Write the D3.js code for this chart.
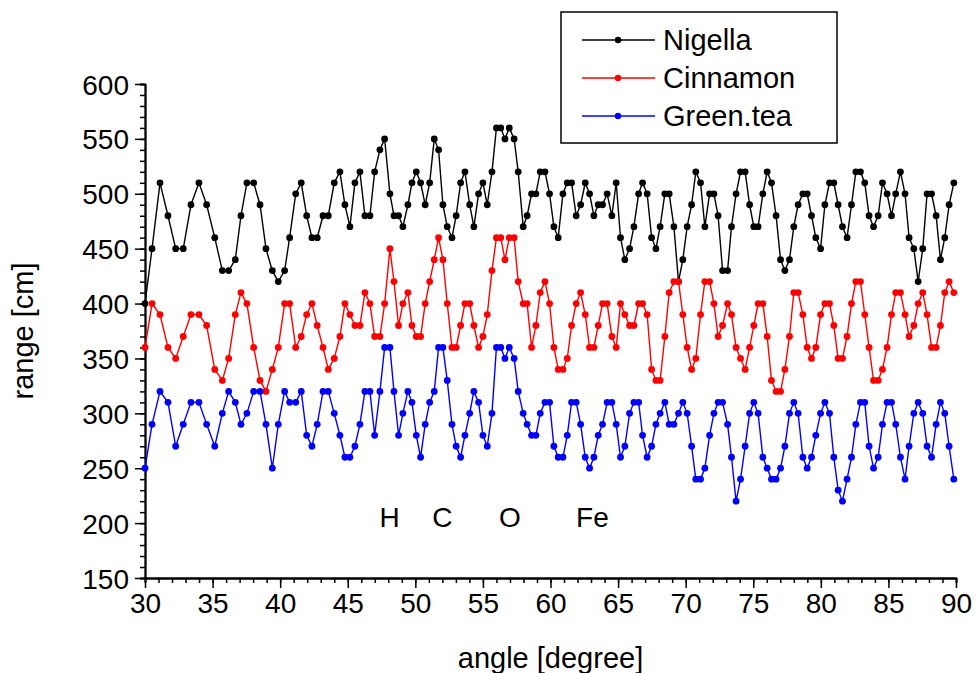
<!DOCTYPE html>
<html>
<head>
<meta charset="utf-8">
<script src="https://cdn.jsdelivr.net/npm/d3@7"></script>
<style>
  body { margin: 0; background: #fff; }
  svg text { font-family: "Liberation Sans", Arial, sans-serif; fill: #000; }
</style>
</head>
<body>
<svg id="chart"></svg>
<script>
// x positions (degrees)
var angles = [30.0,30.52,31.11,31.70,32.27,32.83,33.40,33.99,34.56,35.16,35.72,36.19,36.68,37.10,37.54,38.04,38.51,38.95,39.42,39.86,
  40.33,40.70,41.15,41.56,41.96,42.35,42.74,43.17,43.56,44.00,44.42,44.79,45.16,45.53,45.90,46.27,46.64,46.99,47.38,47.73,
  48.12,48.42,48.76,49.08,49.45,49.75,50.07,50.39,50.73,51.06,51.40,51.72,52.04,52.36,52.71,53.02,53.35,53.67,54.02,54.33,
  54.68,55.00,55.32,55.67,56.00,56.32,56.63,56.95,57.31,57.61,57.98,58.27,58.60,58.92,59.24,59.59,59.93,60.25,60.57,60.92,
  61.24,61.56,61.90,62.23,62.57,62.89,63.21,63.53,63.85,64.19,64.54,64.86,65.18,65.50,65.85,66.17,66.52,66.81,67.15,67.48,
  67.80,68.11,68.46,68.78,69.13,69.47,69.79,70.11,70.44,70.75,71.10,71.42,71.77,72.09,72.40,72.73,73.10,73.39,73.73,74.06,
  74.40,74.73,75.04,75.36,75.71,76.03,76.35,76.69,77.02,77.34,77.68,78.00,78.32,78.67,78.99,79.31,79.63,79.98,80.30,80.64,
  80.96,81.28,81.60,81.94,82.27,82.59,82.93,83.25,83.57,83.90,84.24,84.56,84.90,85.23,85.54,85.89,86.23,86.53,86.88,87.20,
  87.54,87.86,88.19,88.53,88.85,89.17,89.49,89.84];

var nigella = [400,450,510,480,450,450,490,510,490,460,430,430,440,480,510,510,490,450,430,420,
  430,460,500,510,480,460,460,480,480,510,520,490,470,510,520,480,480,520,540,550,
  500,480,480,470,490,510,520,510,490,510,550,540,490,470,460,480,510,520,490,470,
  500,510,490,520,560,560,550,560,550,520,470,480,500,500,520,520,500,470,460,500,
  510,510,480,490,510,500,480,490,490,500,480,510,460,440,450,470,500,510,500,460,
  450,470,500,500,470,420,440,470,490,520,510,470,500,500,480,430,430,470,500,520,
  520,490,470,470,500,520,510,480,440,430,440,470,490,500,500,480,460,450,490,510,
  510,490,470,460,490,520,520,510,480,470,480,510,500,480,500,520,500,460,450,420,
  450,500,500,480,440,460,490,510];

var cinnamon = [360,400,390,360,350,370,390,390,380,340,330,350,390,410,400,360,330,320,340,360,
  400,400,360,370,390,400,380,360,340,350,370,400,390,380,380,410,400,370,370,400,
  450,420,380,400,410,380,370,370,400,420,440,460,440,400,360,360,380,400,400,380,
  360,370,390,430,460,460,440,460,460,420,400,400,360,380,410,420,400,360,340,340,
  350,380,400,410,390,360,360,380,400,400,370,360,400,390,380,380,400,400,390,340,
  330,330,370,410,420,420,390,360,340,350,390,420,420,400,370,380,400,390,360,350,
  340,360,380,400,400,370,330,320,320,340,370,410,410,390,360,350,360,390,400,400,
  380,350,350,370,400,420,420,390,360,330,330,340,360,390,410,410,390,370,380,400,
  410,390,360,360,380,410,420,410];

var greenTea = [250,290,320,310,270,290,310,310,290,270,300,320,310,290,300,320,320,290,250,290,
  320,310,310,320,280,270,290,320,320,300,280,260,260,270,290,320,320,280,320,360,
  360,320,280,300,320,310,280,260,290,310,320,360,360,330,290,270,260,280,300,320,
  310,280,270,300,360,360,350,360,350,320,300,290,280,280,300,310,310,270,260,260,
  280,310,310,290,260,250,260,280,290,310,310,290,260,270,300,310,310,280,260,270,
  290,300,310,290,290,300,310,300,270,240,240,250,280,300,310,310,290,260,220,240,
  270,300,310,300,260,250,240,240,250,270,300,310,300,260,250,260,280,300,310,300,
  260,230,220,240,260,290,310,310,270,250,260,290,310,310,290,260,240,270,300,310,
  300,270,260,290,310,300,270,240];

var seriesNames = ["Nigella", "Cinnamon", "Green.tea"];
var seriesColors = ["#000000", "#ff0000", "#0000ff"];
var seriesValues = [nigella, cinnamon, greenTea];

// element labels written inside the plot
var peakLabels = ["H", "C", "O", "Fe"];
var peakAngles = [48.1, 52.0, 57.0, 63.1];

var width = 978, height = 673;
var margin = {top: 84, right: 22, bottom: 95, left: 145};

var svg = d3.select("#chart")
    .attr("width", width)
    .attr("height", height);

var x = d3.scaleLinear().domain([30, 90]).range([margin.left, width - margin.right]);
var y = d3.scaleLinear().domain([150, 600]).range([height - margin.bottom, margin.top]);

// minor ticks first, then major ticks with labels
svg.append("g")
    .attr("transform", "translate(0," + y(150) + ")")
    .call(d3.axisBottom(x).tickValues(d3.range(30, 91, 1)).tickSize(5).tickFormat(""))
    .call(g => g.selectAll("line").attr("stroke-width", 1.3));

svg.append("g")
    .attr("transform", "translate(" + x(30) + ",0)")
    .call(d3.axisLeft(y).tickValues(d3.range(150, 601, 10)).tickSize(5).tickFormat(""))
    .call(g => g.selectAll("line").attr("stroke-width", 1.3));

var xAxis = svg.append("g")
    .attr("transform", "translate(0," + y(150) + ")")
    .call(d3.axisBottom(x).tickValues(d3.range(30, 91, 5)).tickSize(10).tickPadding(5).tickSizeOuter(0));
xAxis.selectAll("text").style("font-size", "28px");

var yAxis = svg.append("g")
    .attr("transform", "translate(" + x(30) + ",0)")
    .call(d3.axisLeft(y).tickValues(d3.range(150, 601, 50)).tickSize(10).tickPadding(6).tickSizeOuter(0));
yAxis.selectAll("text").style("font-size", "28px").attr("dy", "0.36em");

svg.selectAll(".domain").attr("stroke-width", 1.8);
svg.selectAll(".tick line").attr("stroke-width", 1.5);

// axis titles
svg.append("text")
    .attr("x", (x(30) + x(90)) / 2)
    .attr("y", 668)
    .attr("text-anchor", "middle")
    .style("font-size", "29px")
    .text("angle [degree]");

svg.append("text")
    .attr("transform", "translate(33," + y(375) + ") rotate(-90)")
    .attr("text-anchor", "middle")
    .style("font-size", "29px")
    .text("range [cm]");

// lines + dots
var line = d3.line()
    .x(function(d, i) { return x(angles[i]); })
    .y(function(d) { return y(d); });

seriesValues.forEach(function(vals, k) {
    var g = svg.append("g");
    g.append("path")
        .datum(vals)
        .attr("fill", "none")
        .attr("stroke", seriesColors[k])
        .attr("stroke-width", 1.4)
        .attr("d", line);
    g.selectAll("circle")
        .data(vals)
        .enter().append("circle")
        .attr("cx", function(d, i) { return x(angles[i]); })
        .attr("cy", function(d) { return y(d); })
        .attr("r", 3.4)
        .attr("fill", seriesColors[k]);
});

// H C O Fe
svg.selectAll(".peak")
    .data(peakLabels)
    .enter().append("text")
    .attr("class", "peak")
    .attr("x", function(d, i) { return x(peakAngles[i]); })
    .attr("y", 527)
    .attr("text-anchor", "middle")
    .style("font-size", "28px")
    .text(function(d) { return d; });

// legend
var legend = svg.append("g");
legend.append("rect")
    .attr("x", 561).attr("y", 12)
    .attr("width", 276).attr("height", 131)
    .attr("fill", "#fff")
    .attr("stroke", "#000")
    .attr("stroke-width", 1.5);

seriesNames.forEach(function(name, k) {
    var ly = 40 + k * 38;
    legend.append("line")
        .attr("x1", 582).attr("x2", 655)
        .attr("y1", ly).attr("y2", ly)
        .attr("stroke", seriesColors[k])
        .attr("stroke-width", 1.3);
    legend.append("circle")
        .attr("cx", 618).attr("cy", ly).attr("r", 3.2)
        .attr("fill", seriesColors[k]);
    legend.append("text")
        .attr("x", 663).attr("y", ly)
        .attr("dy", "0.36em")
        .style("font-size", "29px")
        .text(name);
});
</script>
</body>
</html>
